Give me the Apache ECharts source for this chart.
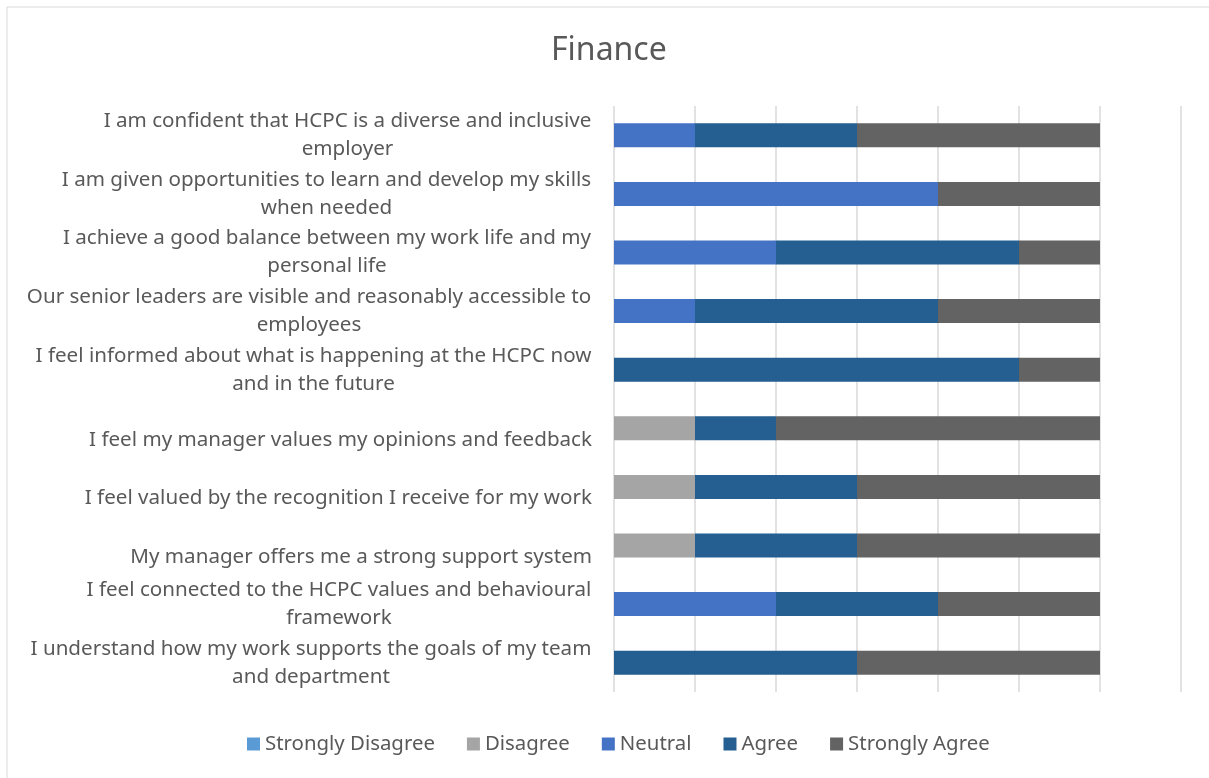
<!DOCTYPE html>
<html>
<head>
<meta charset="utf-8">
<script src="https://cdn.jsdelivr.net/npm/echarts@6/dist/echarts.min.js"></script>
<style>
  html, body { margin: 0; padding: 0; background: #fff; }
  #chart { width: 1209px; height: 778px; }
</style>
</head>
<body>
<div id="chart"></div>
<script>
// questions, top to bottom
var questions = [
    'I am confident that HCPC is a diverse and inclusive\nemployer',
    'I am given opportunities to learn and develop my skills\nwhen needed',
    'I achieve a good balance between my work life and my\npersonal life',
    'Our senior leaders are visible and reasonably accessible to\nemployees',
    'I feel informed about what is happening at the HCPC now\nand in the future',
    'I feel my manager values my opinions and feedback',
    'I feel valued by the recognition I receive for my work',
    'My manager offers me a strong support system',
    'I feel connected to the HCPC values and behavioural\nframework',
    'I understand how my work supports the goals of my team\nand department'
];
var stronglyDisagree = [0, 0, 0, 0, 0, 0, 0, 0, 0, 0];
var disagree         = [0, 0, 0, 0, 0, 1, 1, 1, 0, 0];
var neutral          = [1, 4, 2, 1, 0, 0, 0, 0, 2, 0];
var agree            = [2, 0, 3, 3, 5, 1, 2, 2, 2, 3];
var stronglyAgree    = [3, 2, 1, 2, 1, 4, 3, 3, 2, 3];

var names  = ['Strongly Disagree', 'Disagree', 'Neutral', 'Agree', 'Strongly Agree'];
var colors = ['#5B9BD5', '#A5A5A5', '#4472C4', '#255E91', '#636363'];
var values = [stronglyDisagree, disagree, neutral, agree, stronglyAgree];

var font = 'Noto Sans';
var labelSize = 20.6;

// measure the longest line of each label so wrapped lines can be centred
var cv = document.createElement('canvas').getContext('2d');
cv.font = labelSize + 'px "' + font + '"';
var rich = {
    s: { fontFamily: font, fontSize: labelSize, color: '#595959', padding: [23, 0, 0, 0] }
};
for (let i = 0; i < questions.length; i++) {
    var lines = questions[i].split('\n');
    var w = 0;
    for (let l of lines) { w = Math.max(w, cv.measureText(l).width); }
    rich['c' + i] = { fontFamily: font, fontSize: labelSize, color: '#595959', width: Math.ceil(w) + 1, align: 'center', lineHeight: 28 };
}

var chart = echarts.init(document.getElementById('chart'));

var series = [];
for (let i = 0; i < names.length; i++) {
    series.push({
        name: names[i],
        type: 'bar',
        stack: 'total',
        barWidth: 24,
        itemStyle: { color: colors[i] },
        data: values[i]
    });
}

option = {
    animation: false,
    color: colors,
    graphic: [{
        type: 'rect',
        shape: { x: 7, y: 7, width: 1210, height: 780 },
        style: { fill: 'none', stroke: '#d9d9d9', lineWidth: 1 }
    }],
    title: {
        text: 'Finance',
        left: 546,
        top: 30,
        textStyle: { fontFamily: font, fontSize: 32, fontWeight: 'normal', color: '#595959' }
    },
    legend: {
        bottom: 19,
        left: 242,
        itemWidth: 13,
        itemHeight: 13,
        itemGap: 32,
        icon: 'rect',
        textStyle: { fontFamily: font, fontSize: 20.4, color: '#595959' },
        data: names
    },
    grid: { left: 614, right: 28, top: 106, bottom: 86 },
    xAxis: {
        type: 'value',
        min: 0,
        max: 7,
        interval: 1,
        axisLabel: { show: false },
        axisLine: { show: false },
        axisTick: { show: false },
        splitLine: { lineStyle: { color: '#d9d9d9', width: 1.5 } }
    },
    yAxis: {
        type: 'category',
        inverse: true,
        data: questions,
        axisLine: { show: false },
        axisTick: { show: false },
        axisLabel: {
            margin: 22,
            fontFamily: font,
            fontSize: labelSize,
            color: '#595959',
            lineHeight: 28,
            formatter: function (v, idx) {
                if (v.indexOf('\n') < 0) {
                    return '{s|' + v + '}';
                }
                var i = questions.indexOf(v);
                return v.split('\n').map(function (l) { return '{c' + i + '|' + l + '}'; }).join('\n');
            },
            rich: rich
        }
    },
    series: series
};
chart.setOption(option);
</script>
</body>
</html>
